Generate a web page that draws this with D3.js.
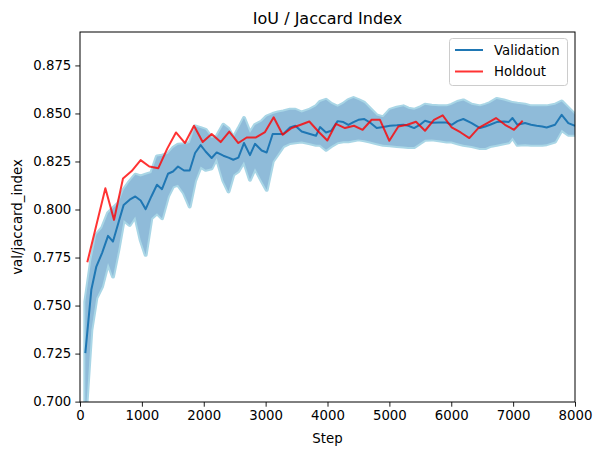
<!DOCTYPE html>
<html><head><meta charset="utf-8">
<script src="https://cdn.jsdelivr.net/npm/d3@7"></script>
<style>body{margin:0;background:#fff}svg text{font-family:"DejaVu Sans",sans-serif;fill:#000}</style>
</head><body><svg id="c" width="602" height="455"></svg>
<script>
const valSteps = [86,183,264,356,453,533,620,706,803,894,980,1061,1153,1244,1325,1422,1503,1584,1681,1773,1860,1950,2030,2128,2209,2317,2400,2478,2560,2650,2747,2828,2936,3017,3114,3200,3286,3394,3480,3583,3717,3814,3879,3976,4060,4164,4256,4337,4420,4500,4595,4687,4795,4900,5010,5120,5226,5307,5400,5490,5576,5684,5800,5926,6007,6100,6195,6330,6465,6550,6626,6734,6850,6930,6990,7070,7192,7290,7381,7470,7542,7677,7785,7892,8000];
const valMean = [0.7252,0.7582,0.7703,0.7773,0.7863,0.7833,0.7930,0.8024,0.8051,0.8068,0.8047,0.8002,0.8068,0.8129,0.8106,0.8186,0.8198,0.8224,0.8203,0.8203,0.8294,0.8335,0.8302,0.8268,0.8297,0.8280,0.8270,0.8259,0.8270,0.8346,0.8283,0.8342,0.8307,0.8297,0.8393,0.8393,0.8393,0.8427,0.8436,0.8406,0.8393,0.8384,0.8429,0.8401,0.8410,0.8460,0.8455,0.8440,0.8455,0.8467,0.8471,0.8453,0.8424,0.8430,0.8436,0.8438,0.8441,0.8436,0.8424,0.8440,0.8462,0.8452,0.8453,0.8453,0.8441,0.8460,0.8471,0.8450,0.8424,0.8432,0.8441,0.8455,0.8458,0.8456,0.8476,0.8441,0.8450,0.8441,0.8436,0.8432,0.8427,0.8441,0.8493,0.8450,0.8436];
const valLow = [0.6900,0.7372,0.7539,0.7599,0.7721,0.7651,0.7790,0.7946,0.7920,0.7964,0.7842,0.7764,0.7955,0.7981,0.7955,0.8068,0.8120,0.8129,0.8085,0.8016,0.8150,0.8224,0.8207,0.8215,0.8268,0.8150,0.8094,0.8181,0.8200,0.8250,0.8155,0.8215,0.8150,0.8103,0.8250,0.8290,0.8330,0.8346,0.8350,0.8354,0.8345,0.8337,0.8337,0.8311,0.8330,0.8350,0.8355,0.8355,0.8360,0.8365,0.8360,0.8354,0.8345,0.8337,0.8335,0.8330,0.8328,0.8325,0.8325,0.8345,0.8363,0.8365,0.8360,0.8354,0.8354,0.8345,0.8337,0.8330,0.8320,0.8320,0.8330,0.8337,0.8345,0.8350,0.8375,0.8337,0.8340,0.8337,0.8337,0.8337,0.8340,0.8354,0.8415,0.8389,0.8389];
const valHigh = [0.7520,0.7738,0.7868,0.7903,0.7981,0.8007,0.8033,0.8103,0.8146,0.8181,0.8172,0.8181,0.8190,0.8276,0.8280,0.8290,0.8320,0.8337,0.8340,0.8346,0.8432,0.8424,0.8415,0.8372,0.8380,0.8441,0.8420,0.8372,0.8420,0.8476,0.8398,0.8440,0.8458,0.8484,0.8497,0.8505,0.8510,0.8519,0.8519,0.8505,0.8520,0.8537,0.8560,0.8571,0.8550,0.8535,0.8550,0.8570,0.8580,0.8570,0.8555,0.8525,0.8490,0.8480,0.8519,0.8530,0.8537,0.8525,0.8519,0.8530,0.8545,0.8540,0.8537,0.8537,0.8545,0.8560,0.8568,0.8545,0.8537,0.8545,0.8554,0.8575,0.8568,0.8560,0.8554,0.8550,0.8545,0.8537,0.8537,0.8537,0.8537,0.8545,0.8562,0.8528,0.8493];
const holdSteps = [118,264,410,550,695,835,980,1120,1266,1410,1551,1697,1842,1983,2128,2273,2413,2559,2694,2844,2990,3130,3276,3421,3567,3706,3852,3997,4137,4283,4428,4568,4713,4848,4999,5145,5290,5430,5576,5721,5862,6007,6153,6292,6437,6582,6723,6869,7014,7155];
const holdVals = [0.7725,0.7918,0.8111,0.7946,0.8161,0.8200,0.8257,0.8224,0.8215,0.8317,0.8401,0.8346,0.8436,0.8351,0.8393,0.8351,0.8406,0.8346,0.8375,0.8375,0.8403,0.8480,0.8389,0.8424,0.8441,0.8458,0.8406,0.8359,0.8446,0.8424,0.8436,0.8415,0.8467,0.8467,0.8358,0.8432,0.8441,0.8457,0.8410,0.8467,0.8490,0.8427,0.8401,0.8372,0.8424,0.8450,0.8476,0.8441,0.8415,0.8462];
const xTicks = [0,1000,2000,3000,4000,5000,6000,7000,8000];
const yTicks = [0.700,0.725,0.750,0.775,0.800,0.825,0.850,0.875];
const seriesNames = ["Validation","Holdout"];

const L=80,R=575,T=32,B=402;
const svg=d3.select("#c");
const x=d3.scaleLinear().domain([0,8000]).range([L,R]);
const y=d3.scaleLinear().domain([0.6998,0.8924]).range([B,T]);

svg.append("defs").append("clipPath").attr("id","clip").append("rect")
  .attr("x",L).attr("y",T).attr("width",R-L).attr("height",B-T);

const val=valSteps.map((s,i)=>({s,m:valMean[i],lo:valLow[i],hi:valHigh[i]}));
const hold=holdSteps.map((s,i)=>({s,v:holdVals[i]}));
const g=svg.append("g").attr("clip-path","url(#clip)");
const area=d3.area().x(d=>x(d.s)).y0(d=>y(d.lo)).y1(d=>y(d.hi));
g.append("path").datum(val).attr("d",area)
  .attr("fill","#8fbbd9").attr("stroke","#a9d6e6").attr("stroke-width",4)
  .attr("stroke-linejoin","round").attr("paint-order","stroke");
g.append("path").datum(val).attr("d",d3.line().x(d=>x(d.s)).y(d=>y(d.m)))
  .attr("fill","none").attr("stroke","#1f77b4").attr("stroke-width",2).attr("stroke-linejoin","round");
g.append("path").datum(hold).attr("d",d3.line().x(d=>x(d.s)).y(d=>y(d.v)))
  .attr("fill","none").attr("stroke","#ff0000").attr("stroke-opacity",0.8).attr("stroke-width",2).attr("stroke-linejoin","round");

const xa=svg.append("g").attr("transform",`translate(0,${B})`)
  .call(d3.axisBottom(x).tickValues(xTicks).tickFormat(d3.format("d")).tickSizeOuter(0).tickSize(4.7).tickPadding(4));
const ya=svg.append("g").attr("transform",`translate(${L},0)`)
  .call(d3.axisLeft(y).tickValues(yTicks).tickFormat(d3.format(".3f")).tickSizeOuter(0).tickSize(4.7).tickPadding(4));
[xa,ya].forEach(a=>{a.select(".domain").remove();a.selectAll("text").attr("font-size","13.3px").attr("font-family","DejaVu Sans");a.selectAll("line").attr("stroke","#000").attr("stroke-width",0.9);});

svg.append("rect").attr("x",L).attr("y",T).attr("width",R-L).attr("height",B-T)
  .attr("fill","none").attr("stroke","#000").attr("stroke-width",1);

svg.append("text").attr("x",(L+R)/2).attr("y",24).attr("text-anchor","middle").attr("font-size","16px").text("IoU / Jaccard Index");
svg.append("text").attr("x",(L+R)/2).attr("y",443).attr("text-anchor","middle").attr("font-size","13.3px").text("Step");
svg.append("text").attr("transform",`translate(22,${(T+B)/2}) rotate(-90)`).attr("text-anchor","middle").attr("font-size","13.3px").text("val/jaccard_index");

const lg=svg.append("g");
lg.append("rect").attr("x",449.5).attr("y",38.5).attr("width",118).attr("height",47).attr("rx",3)
  .attr("fill","#fff").attr("fill-opacity",0.8).attr("stroke","#cccccc").attr("stroke-width",1);
const lc=["#1f77b4","rgba(255,0,0,0.8)"];
seriesNames.forEach((n,i)=>{
  const yy=50+i*21.5;
  lg.append("line").attr("x1",455).attr("x2",483).attr("y1",yy).attr("y2",yy).attr("stroke",lc[i]).attr("stroke-width",2);
  lg.append("text").attr("x",494).attr("y",yy+4.8).attr("font-size","13.3px").text(n);
});
</script></body></html>
